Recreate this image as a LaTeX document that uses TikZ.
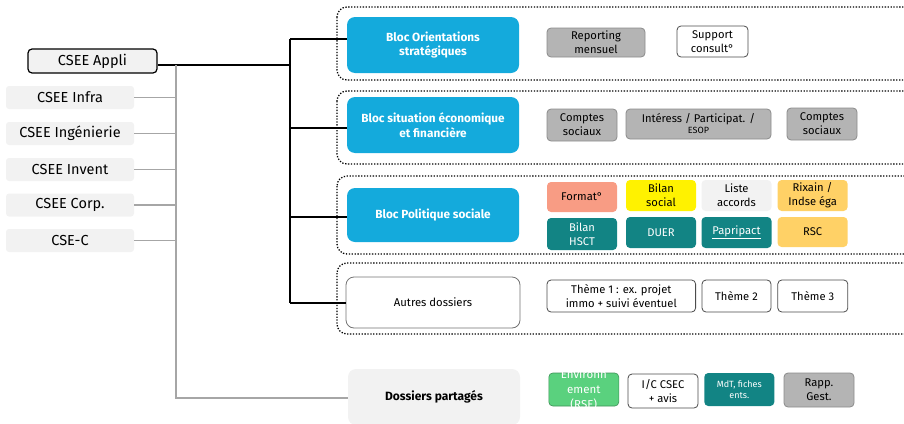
\documentclass[tikz,border=0pt]{standalone}
\usepackage{fontspec}
\setmainfont{Fira Sans}
\usetikzlibrary{calc}

\definecolor{blocblue}{RGB}{20,170,220}
\definecolor{tealbox}{RGB}{18,132,132}
\definecolor{salmonbox}{RGB}{248,156,132}
\definecolor{orangebox}{RGB}{255,209,102}
\definecolor{greenbox}{RGB}{90,209,126}
\definecolor{graybox}{RGB}{180,180,180}
\definecolor{grayedge}{RGB}{140,140,140}
\definecolor{paleback}{RGB}{242,242,242}
\definecolor{graylink}{RGB}{166,166,166}

\begin{document}
\begin{tikzpicture}[x=1pt,y=-1pt,
  every node/.style={align=center,inner sep=1pt},
  sidebox/.style={fill=paleback,rounded corners=3pt,minimum width=128pt,minimum height=23pt,
    font=\fontsize{14.5}{16}\selectfont},
  blocbox/.style={fill=blocblue,rounded corners=8pt,minimum width=172pt,text=white,
    font=\fontsize{11.8}{14.5}\selectfont\bfseries},
  itembox/.style={rounded corners=4pt,minimum width=70pt,minimum height=31pt,
    font=\fontsize{11.2}{14}\selectfont},
  itemgray/.style={itembox,fill=graybox,draw=grayedge,line width=0.8pt},
  itemwhite/.style={itembox,fill=white,draw=black!70,line width=0.8pt},
  itemteal/.style={itembox,fill=tealbox,text=white},
  frame/.style={line width=1.3pt,dash pattern=on 1.3pt off 1.6pt,rounded corners=10pt},
  treeline/.style={line width=1.5pt},
  grayline/.style={graylink,line width=1.3pt}]

\useasboundingbox (0,0) rectangle (904,423);
\clip (0,0) rectangle (904,423);

% Left column
\node[sidebox,draw,line width=1.2pt,rounded corners=4pt,minimum width=129pt,minimum height=24pt]
  (appli) at (92.5,61) {CSEE Appli};
\node[sidebox] (infra) at (70,97.5) {CSEE Infra};
\node[sidebox] (ing) at (70,133.5) {CSEE Ingénierie};
\node[sidebox] (inv) at (70,169.5) {CSEE Invent};
\node[sidebox] (corp) at (70,205) {CSEE Corp.};
\node[sidebox] (csec) at (70,240.5) {CSE-C};

% Dotted frames, open on the right
\draw[frame] (337,7) rectangle (930,80);
\draw[frame] (337,91) rectangle (930,164);
\draw[frame] (337,176) rectangle (930,254);
\draw[frame] (337,263) rectangle (930,334);

% Blocs
\node[blocbox,minimum height=56pt] (orient) at (433,45) {Bloc Orientations\\stratégiques};
\node[blocbox,minimum height=56pt] (situ) at (433,125) {Bloc situation économique\\et financière};
\node[blocbox,minimum height=54pt] (polit) at (433,215) {Bloc Politique sociale};
\node[draw=black!55,line width=0.8pt,fill=white,rounded corners=8pt,minimum width=174pt,
  minimum height=51pt,font=\fontsize{11.3}{13}\selectfont] (autres) at (433,302.5) {Autres dossiers};
\node[fill=paleback,rounded corners=8pt,minimum width=172pt,minimum height=56pt,
  font=\fontsize{12}{14}\selectfont\bfseries] (partage) at (434,397) {Dossiers partagés};

% Row 1
\node[itemgray,minimum width=98pt,minimum height=29pt] (rep) at (596,42.5) {Reporting\\mensuel};
\node[itemwhite,minimum width=71pt] (supp) at (712.5,41.5) {Support\\consult°};

% Row 2
\node[itemgray,minimum height=32pt] (cpt1) at (582,125) {Comptes\\sociaux};
\node[itemgray,minimum width=145pt,minimum height=30pt] (inter) at (698.5,124)
  {Intéress / Participat. /\\[-3pt]{\fontsize{9}{10}\selectfont ESOP}};
\node[itemgray,minimum height=32pt] (cpt2) at (822,124) {Comptes\\sociaux};

% Row 3
\node[itembox,fill=salmonbox,minimum height=30pt] (form) at (582,197) {Format°};
\node[itembox,fill=yellow] (bilan) at (661,195.5) {Bilan\\social};
\node[itembox,fill=paleback] (liste) at (736.5,195.5) {Liste\\accords};
\node[itembox,fill=orangebox] (rix) at (812.6,195.5) {Rixain /\\Indse éga};
\node[itemteal,minimum height=32pt] (hsct) at (582,234) {Bilan\\HSCT};
\node[itemteal] (duer) at (661,232.5) {DUER};
\node[itemteal] (papri) at (736.5,232.5) {\underline{Papripact}};
\node[itembox,fill=orangebox,minimum height=30pt] (rsc) at (812.6,232) {RSC};

% Row 4
\node[itemwhite,minimum width=148.6pt,minimum height=32pt] (theme1) at (621.3,296)
  {Thème 1 : ex. projet\\immo + suivi éventuel};
\node[itemwhite,minimum width=69pt,minimum height=32pt] (theme2) at (736.5,296) {Thème 2};
\node[itemwhite,minimum height=32pt] (theme3) at (812.8,296) {Thème 3};

% Row 5
\node[itembox,fill=greenbox,draw=greenbox!70!black,line width=0.6pt,minimum height=33pt]
  (envir) at (583.8,389.5) {};
\node[font=\fontsize{11.5}{15}\selectfont,text=white] (envirtext) at (envir) {Environn\\ement\\(RSE)};
\node[itemwhite,minimum height=34pt] (icsec) at (663,391) {I/C CSEC\\+ avis};
\node[itemteal,minimum height=33pt,font=\fontsize{9}{10.5}\selectfont] (mdt) at (739.3,389.5)
  {MdT, fiches\\ents.};
\node[itemgray,minimum height=34pt] (rapp) at (819,390) {Rapp.\\Gest.};

% Black tree
\coordinate (bj) at (290,65);
\coordinate (b1) at (290,39);
\coordinate (b2) at (290,128);
\coordinate (b3) at (290,217);
\coordinate (b4) at (290,303);
\draw[treeline] ([yshift=-4pt]appli.east) -- (bj);
\draw[treeline] (b1) -- (b4);
\draw[treeline] (b1) -- (b1 -| orient.west);
\draw[treeline] (b2) -- (b2 -| situ.west);
\draw[treeline] (b3) -- (b3 -| polit.west);
\draw[treeline] (b4) -- (b4 -| autres.west);

% Gray tree
\coordinate (gtop) at (176,65);
\coordinate (gbot) at (176,398);
\draw[grayline] (gtop) -- (gbot) -- (gbot -| partage.west);
\foreach \n in {infra,ing,inv,corp,csec}
  \draw[grayline] (\n.east) -- (\n.east -| gtop);

\end{tikzpicture}
\end{document}
